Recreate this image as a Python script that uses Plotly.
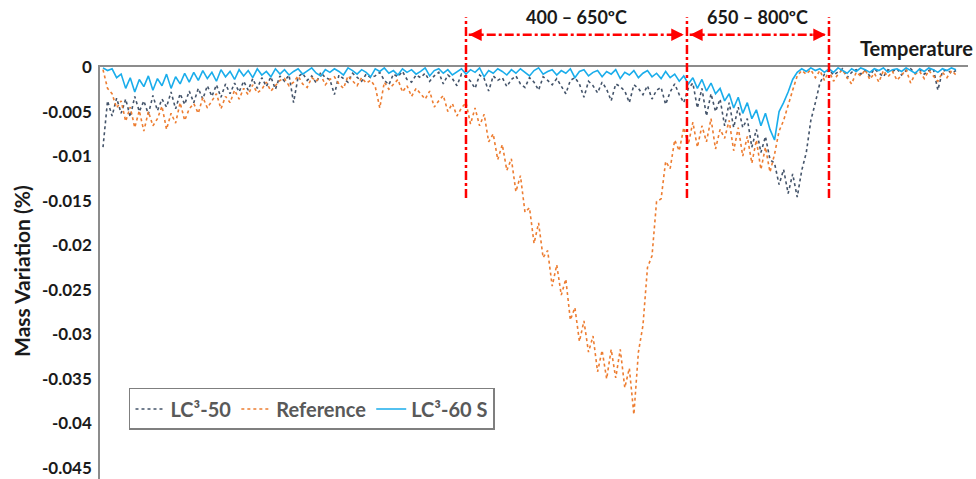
import plotly.graph_objects as go

# Temperature sampling (ºC), one point every 5 ºC
temperature = list(range(0, 945, 5))

lc3_50 = [
    -0.0090, -0.0038, -0.0055, -0.0035, -0.0052, -0.0036, -0.0056, -0.0033, -0.0050, -0.0038,
    -0.0053, -0.0032, -0.0049, -0.0036, -0.0045, -0.0028, -0.0047, -0.0030, -0.0042, -0.0027,
    -0.0040, -0.0024, -0.0036, -0.0021, -0.0033, -0.0020, -0.0034, -0.0019, -0.0030, -0.0018,
    -0.0028, -0.0016, -0.0026, -0.0013, -0.0024, -0.0012, -0.0022, -0.0011, -0.0025, -0.0010,
    -0.0016, -0.0009, -0.0040, -0.0011, -0.0007, -0.0015, -0.0010, -0.0018, -0.0006, -0.0012,
    -0.0014, -0.0031, -0.0009, -0.0013, -0.0017, -0.0007, -0.0011, -0.0016, -0.0008, -0.0012,
    -0.0010, -0.0006, -0.0015, -0.0020, -0.0008, -0.0011, -0.0005, -0.0014, -0.0017, -0.0009,
    -0.0012, -0.0007, -0.0016, -0.0010, -0.0006, -0.0019, -0.0009, -0.0013, -0.0021, -0.0008,
    -0.0011, -0.0016, -0.0024, -0.0009, -0.0013, -0.0027, -0.0010, -0.0015, -0.0012, -0.0022,
    -0.0014, -0.0010, -0.0019, -0.0023, -0.0012, -0.0017, -0.0026, -0.0011, -0.0015, -0.0020,
    -0.0013, -0.0022, -0.0030, -0.0015, -0.0012, -0.0019, -0.0034, -0.0016, -0.0021, -0.0029,
    -0.0017, -0.0025, -0.0038, -0.0019, -0.0022, -0.0027, -0.0040, -0.0020, -0.0024, -0.0031,
    -0.0021, -0.0036, -0.0026, -0.0023, -0.0042, -0.0028, -0.0019, -0.0031, -0.0040, -0.0024,
    -0.0018, -0.0046, -0.0024, -0.0055, -0.0030, -0.0050, -0.0036, -0.0066, -0.0040, -0.0068,
    -0.0045, -0.0068, -0.0058, -0.0090, -0.0070, -0.0096, -0.0078, -0.0104, -0.0108, -0.0132,
    -0.0115, -0.0142, -0.0120, -0.0146, -0.0116, -0.0096, -0.0060, -0.0040, -0.0018, -0.0008,
    -0.0003, -0.0009, -0.0005, -0.0002, -0.0012, -0.0006, -0.0003, -0.0008, -0.0004, -0.0010,
    -0.0002, -0.0006, -0.0011, -0.0003, -0.0005, -0.0002, -0.0009, -0.0004, -0.0002, -0.0007,
    -0.0003, -0.0008, -0.0004, -0.0002, -0.0026, -0.0005, -0.0003, -0.0007, -0.0004,
]

reference = [
    -0.0003, -0.0024, -0.0030, -0.0046, -0.0038, -0.0061, -0.0045, -0.0068, -0.0049, -0.0072,
    -0.0050, -0.0066, -0.0058, -0.0044, -0.0070, -0.0052, -0.0063, -0.0040, -0.0060, -0.0047,
    -0.0041, -0.0052, -0.0034, -0.0046, -0.0038, -0.0030, -0.0047, -0.0033, -0.0040, -0.0026,
    -0.0036, -0.0024, -0.0031, -0.0020, -0.0029, -0.0025, -0.0017, -0.0027, -0.0021, -0.0015,
    -0.0013, -0.0021, -0.0017, -0.0010, -0.0019, -0.0023, -0.0012, -0.0016, -0.0009, -0.0020,
    -0.0014, -0.0011, -0.0019, -0.0024, -0.0010, -0.0016, -0.0021, -0.0012, -0.0018, -0.0015,
    -0.0022, -0.0046, -0.0017, -0.0025, -0.0019, -0.0014, -0.0028, -0.0021, -0.0033, -0.0024,
    -0.0030, -0.0036, -0.0027, -0.0045, -0.0038, -0.0032, -0.0050, -0.0041, -0.0055, -0.0046,
    -0.0040, -0.0064, -0.0046, -0.0066, -0.0053, -0.0084, -0.0075, -0.0104, -0.0087, -0.0116,
    -0.0103, -0.0140, -0.0122, -0.0163, -0.0158, -0.0198, -0.0175, -0.0214, -0.0206, -0.0246,
    -0.0222, -0.0256, -0.0238, -0.0284, -0.0270, -0.0308, -0.0285, -0.0320, -0.0302, -0.0342,
    -0.0318, -0.0350, -0.0317, -0.0349, -0.0317, -0.0360, -0.0338, -0.0390, -0.0320, -0.0290,
    -0.0225, -0.0212, -0.0151, -0.0148, -0.0106, -0.0114, -0.0082, -0.0094, -0.0068, -0.0087,
    -0.0062, -0.0090, -0.0066, -0.0084, -0.0058, -0.0092, -0.0070, -0.0080, -0.0060, -0.0094,
    -0.0068, -0.0100, -0.0078, -0.0108, -0.0082, -0.0115, -0.0090, -0.0118, -0.0098, -0.0072,
    -0.0060, -0.0042, -0.0026, -0.0010, -0.0004, -0.0008, -0.0003, -0.0012, -0.0004, -0.0015,
    -0.0004, -0.0016, -0.0008, -0.0003, -0.0012, -0.0019, -0.0006, -0.0010, -0.0003, -0.0014,
    -0.0007, -0.0017, -0.0004, -0.0011, -0.0005, -0.0015, -0.0009, -0.0003, -0.0018, -0.0008,
    -0.0005, -0.0013, -0.0004, -0.0010, -0.0016, -0.0006, -0.0012, -0.0004, -0.0009,
]

lc3_60s = [
    -0.0001, -0.0004, -0.0002, -0.0012, -0.0008, -0.0024, -0.0012, -0.0028, -0.0014, -0.0022,
    -0.0010, -0.0026, -0.0013, -0.0021, -0.0008, -0.0024, -0.0011, -0.0019, -0.0007, -0.0017,
    -0.0006, -0.0015, -0.0004, -0.0013, -0.0006, -0.0016, -0.0003, -0.0011, -0.0005, -0.0014,
    -0.0003, -0.0010, -0.0004, -0.0012, -0.0002, -0.0009, -0.0005, -0.0011, -0.0002, -0.0008,
    -0.0003, -0.0009, -0.0005, -0.0002, -0.0008, -0.0004, -0.0001, -0.0007, -0.0010, -0.0003,
    -0.0006, -0.0002, -0.0005, -0.0009, -0.0001, -0.0004, -0.0008, -0.0003, -0.0006, -0.0011,
    -0.0002, -0.0005, -0.0001, -0.0007, -0.0004, -0.0009, -0.0002, -0.0006, -0.0003, -0.0008,
    -0.0005, -0.0001, -0.0010, -0.0004, -0.0002, -0.0007, -0.0003, -0.0009, -0.0005, -0.0002,
    -0.0008, -0.0003, -0.0006, -0.0001, -0.0011, -0.0004, -0.0007, -0.0002, -0.0005, -0.0009,
    -0.0003, -0.0007, -0.0002, -0.0006, -0.0010, -0.0004, -0.0001, -0.0008, -0.0005, -0.0003,
    -0.0009, -0.0004, -0.0007, -0.0002, -0.0012, -0.0005, -0.0003, -0.0010, -0.0006, -0.0004,
    -0.0011, -0.0005, -0.0008, -0.0003, -0.0013, -0.0006, -0.0009, -0.0004, -0.0012, -0.0007,
    -0.0004, -0.0011, -0.0007, -0.0013, -0.0005, -0.0012, -0.0008, -0.0016, -0.0010, -0.0019,
    -0.0012, -0.0024, -0.0014, -0.0027, -0.0018, -0.0030, -0.0024, -0.0038, -0.0030, -0.0046,
    -0.0034, -0.0052, -0.0040, -0.0058, -0.0048, -0.0066, -0.0052, -0.0070, -0.0082, -0.0050,
    -0.0040, -0.0028, -0.0014, -0.0006, -0.0002, -0.0005, -0.0001, -0.0004, -0.0002, -0.0006,
    -0.0002, -0.0006, -0.0001, -0.0004, -0.0007, -0.0002, -0.0005, -0.0001, -0.0003, -0.0006,
    -0.0002, -0.0004, -0.0001, -0.0006, -0.0003, -0.0002, -0.0005, -0.0001, -0.0004, -0.0007,
    -0.0002, -0.0005, -0.0001, -0.0003, -0.0006, -0.0002, -0.0004, -0.0001, -0.0003,
]

series_names = ["LC³-50", "Reference", "LC³-60 S"]
y_tick_vals = [0, -0.005, -0.01, -0.015, -0.02, -0.025, -0.03, -0.035, -0.04, -0.045]
y_tick_text = ["0", "-0.005", "-0.01", "-0.015", "-0.02", "-0.025", "-0.03", "-0.035", "-0.04", "-0.045"]

# Annotated temperature ranges (boundaries as drawn on the chart)
range_bounds = [400, 643.5, 800]
range_labels = ["400 – 650ºC", "650 – 800ºC"]

FONT = "Lato"
RED = "#FF0000"

fig = go.Figure()
fig.add_trace(go.Scatter(x=temperature, y=lc3_50, name=series_names[0], mode="lines",
                         line=dict(color="#44546A", width=1.6, dash="dot")))
fig.add_trace(go.Scatter(x=temperature, y=reference, name=series_names[1], mode="lines",
                         line=dict(color="#ED7D31", width=1.6, dash="dot")))
fig.add_trace(go.Scatter(x=temperature, y=lc3_60s, name=series_names[2], mode="lines",
                         line=dict(color="#1AADEB", width=1.6)))

shapes = []
for b in range_bounds:
    shapes.append(dict(type="line", xref="x", yref="paper", x0=b, x1=b, y0=0.682, y1=1.121,
                       line=dict(color=RED, width=2.5, dash="dashdot")))
for a, b in zip(range_bounds[:-1], range_bounds[1:]):
    shapes.append(dict(type="line", xref="x", yref="paper", x0=a + 3, x1=b - 3, y0=1.078, y1=1.078,
                       line=dict(color=RED, width=2.5, dash="dashdot")))

annotations = []
for a, b, lab in zip(range_bounds[:-1], range_bounds[1:], range_labels):
    annotations.append(dict(x=(a + b) / 2, y=1.121, xref="x", yref="paper", text=lab,
                            showarrow=False, yanchor="middle",
                            font=dict(family=FONT, size=18, color="#1a1a1a", weight="bold")))
    # arrowheads at both ends of the range arrow
    annotations.append(dict(x=a + 3.5, y=1.078, xref="x", yref="paper", text="", showarrow=True,
                            ax=14, ay=0, arrowhead=2, arrowsize=1, arrowwidth=2.5, arrowcolor=RED))
    annotations.append(dict(x=b - 3.5, y=1.078, xref="x", yref="paper", text="", showarrow=True,
                            ax=-14, ay=0, arrowhead=2, arrowsize=1, arrowwidth=2.5, arrowcolor=RED))

annotations.append(dict(x=1.008, y=1.046, xref="paper", yref="paper", text="Temperature",
                        showarrow=False, xanchor="right", yanchor="middle",
                        font=dict(family=FONT, size=20, color="#1a1a1a", weight="bold")))
annotations.append(dict(x=-0.0899, y=0.505, xref="paper", yref="paper", text="Mass Variation (%)",
                        showarrow=False, xanchor="center", yanchor="middle", textangle=-90,
                        font=dict(family=FONT, size=21, color="#1a1a1a", weight="bold")))

fig.update_layout(
    width=976, height=479,
    margin=dict(l=100, r=8, t=67, b=0, pad=0),
    paper_bgcolor="white", plot_bgcolor="white",
    font=dict(family=FONT),
    shapes=shapes,
    annotations=annotations,
    legend=dict(orientation="h", x=0.0334, y=0.2209, xanchor="left", yanchor="top",
                bordercolor="#7f7f7f", borderwidth=1.5, bgcolor="white",
                font=dict(family=FONT, size=20, color="#595959", weight="bold"),
                itemwidth=30, tracegroupgap=0),
    xaxis=dict(range=[-3.31, 953.2], side="top", showline=True, linecolor="#8c8c8c", linewidth=1.5,
               showticklabels=False, ticks="", showgrid=False, zeroline=False),
    yaxis=dict(range=[-0.04624, 0], tickvals=y_tick_vals, ticktext=y_tick_text,
               showline=True, linecolor="#8c8c8c", linewidth=1.5, ticks="", showgrid=False,
               zeroline=False, ticklabelstandoff=3,
               tickfont=dict(family=FONT, size=17, color="#1a1a1a", weight="bold")),
)

fig.write_html("out.html", config={"displayModeBar": False},
               post_script="document.body.style.margin='0';")
